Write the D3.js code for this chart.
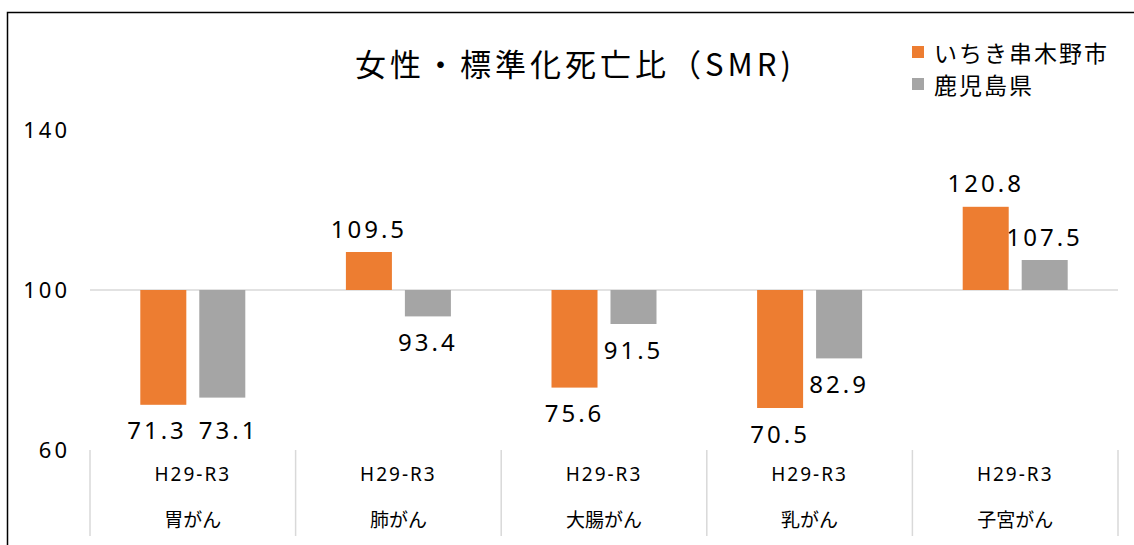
<!DOCTYPE html>
<html>
<head>
<meta charset="utf-8" />
<title>女性・標準化死亡比（SMR)</title>
<script src="https://d3js.org/d3.v7.min.js"></script>
<style>
  body { margin: 0; background: #fff; }
  text { font-family: "Noto Sans CJK JP", "Noto Sans", sans-serif; fill: #000; }
</style>
</head>
<body>
<svg width="1134" height="545"></svg>
<script>
// data
const periods = ["H29-R3", "H29-R3", "H29-R3", "H29-R3", "H29-R3"];
const cancers = ["胃がん", "肺がん", "大腸がん", "乳がん", "子宮がん"];
const cityValues = [71.3, 109.5, 75.6, 70.5, 120.8];
const prefValues = [73.1, 93.4, 91.5, 82.9, 107.5];
const seriesNames = ["いちき串木野市", "鹿児島県"];
const yTicks = [60, 100, 140];

const colors = ["#ED7D31", "#A5A5A5"];
const baseline = 100;

const svg = d3.select("svg");

// outer frame (runs off the right / bottom like the original)
svg.append("rect")
  .attr("x", 7.5).attr("y", 12.5)
  .attr("width", 1200).attr("height", 600)
  .attr("fill", "none").attr("stroke", "#000").attr("stroke-width", 1.5);

const margin = {left: 90, right: 16};
const width = 1134;

const x = d3.scaleBand()
  .domain(d3.range(cancers.length))
  .range([margin.left, width - margin.right]);

// two bars per category, 46px wide with a 13px gap
const xs = d3.scaleBand()
  .domain([0, 1])
  .range([x.bandwidth() / 2 - 52.5, x.bandwidth() / 2 + 52.5])
  .paddingInner(0.22)
  .paddingOuter(0);

const y = d3.scaleLinear()
  .domain([60, 140])
  .range([450, 130]);

// baseline at 100
svg.append("line")
  .attr("x1", x.range()[0]).attr("x2", x.range()[1])
  .attr("y1", y(baseline)).attr("y2", y(baseline))
  .attr("stroke", "#d9d9d9").attr("stroke-width", 1.5);

// y axis labels
const yAxis = d3.axisLeft(y).tickValues(yTicks).tickSize(0).tickPadding(20);
const yG = svg.append("g")
  .attr("transform", `translate(${margin.left},0)`)
  .call(yAxis);
yG.select(".domain").remove();
yG.selectAll("text")
  .style("font-size", "22px")
  .style("letter-spacing", "3px")
  .style("font-family", '"Noto Sans", sans-serif');

// category separators
const seps = d3.range(cancers.length + 1).map(i => i < cancers.length ? x(i) : x.range()[1]);
svg.selectAll("line.sep")
  .data(seps)
  .enter().append("line")
  .attr("class", "sep")
  .attr("x1", d => d).attr("x2", d => d)
  .attr("y1", y(60)).attr("y2", 536)
  .attr("stroke", "#d9d9d9").attr("stroke-width", 1.5);

// two-level category labels
svg.selectAll("text.period")
  .data(periods)
  .enter().append("text")
  .attr("class", "period")
  .attr("x", (d, i) => x(i) + x.bandwidth() / 2)
  .attr("y", 474)
  .attr("text-anchor", "middle")
  .attr("dominant-baseline", "central")
  .style("font-size", "19px")
  .style("letter-spacing", "2px")
  .style("font-family", '"Noto Sans", sans-serif')
  .text(d => d);

svg.selectAll("text.cancer")
  .data(cancers)
  .enter().append("text")
  .attr("class", "cancer")
  .attr("x", (d, i) => x(i) + x.bandwidth() / 2)
  .attr("y", 518)
  .attr("text-anchor", "middle")
  .attr("dominant-baseline", "central")
  .style("font-size", "19px")
  .text(d => d);

// bars
const series = [cityValues, prefValues];
const labels = [];
series.forEach((vals, s) => {
  const g = svg.append("g");
  g.selectAll("rect")
    .data(vals)
    .enter().append("rect")
    .attr("x", (d, i) => x(i) + xs(s))
    .attr("width", xs.bandwidth())
    .attr("y", d => y(Math.max(d, baseline)))
    .attr("height", d => Math.abs(y(d) - y(baseline)))
    .attr("fill", colors[s]);

  labels.push(g.selectAll("text")
    .data(vals)
    .enter().append("text")
    .attr("x", (d, i) => x(i) + xs(s) + xs.bandwidth() / 2)
    .attr("y", d => d >= baseline ? y(d) - 24 : y(d) + 25)
    .attr("text-anchor", "middle")
    .attr("dominant-baseline", "central")
    .style("font-size", "24px")
    .style("letter-spacing", "3px")
    .style("font-family", '"Noto Sans", sans-serif')
    .text(d => d.toFixed(1)));
});

// nudge overlapping value labels apart, like the spreadsheet does
const left = labels[0].nodes(), right = labels[1].nodes();
left.forEach((a, i) => {
  const b = right[i];
  const ba = a.getBBox(), bb = b.getBBox();
  const vOverlap = ba.y < bb.y + bb.height && bb.y < ba.y + ba.height;
  const hOverlap = ba.x + ba.width + 8 > bb.x;
  if (vOverlap && hOverlap) {
    const push = (ba.x + ba.width + 12 - bb.x) / 2;
    const yy = Math.max(+a.getAttribute("y"), +b.getAttribute("y"));
    d3.select(a).attr("x", +a.getAttribute("x") - push).attr("y", yy);
    d3.select(b).attr("x", +b.getAttribute("x") + push).attr("y", yy);
  }
});

// title
svg.append("text")
  .attr("x", 575).attr("y", 62)
  .attr("text-anchor", "middle")
  .attr("dominant-baseline", "central")
  .style("font-size", "31px")
  .style("letter-spacing", "4px")
  .text("女性・標準化死亡比（SMR)");

// legend
const legend = svg.append("g").attr("transform", "translate(912,52)");
seriesNames.forEach((name, i) => {
  const row = legend.append("g").attr("transform", `translate(0,${i * 32})`);
  row.append("rect")
    .attr("x", 0).attr("y", -6)
    .attr("width", 12).attr("height", 12)
    .attr("fill", colors[i]);
  row.append("text")
    .attr("x", 22).attr("y", 0)
    .attr("dominant-baseline", "central")
    .style("font-size", "23px")
    .style("letter-spacing", "2px")
    .text(name);
});
</script>
</body>
</html>
